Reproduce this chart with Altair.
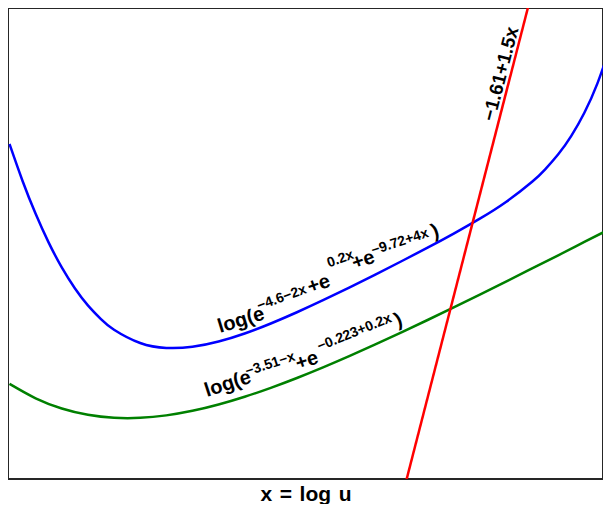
import altair as alt
import pandas as pd

# Blue curve: log(e^{-4.6-2x} + e^{0.2x} + e^{-9.72+4x})
blue_x = [-2.3, -2.2, -2.1, -2.0, -1.9, -1.8, -1.7, -1.6, -1.5, -1.3, -1.1, -0.9, -0.7, -0.5,
          -0.3, -0.1, 0.1, 0.3, 0.5, 0.7, 0.9, 1.1, 1.3, 1.5, 1.7, 1.8, 1.9, 2.0, 2.1, 2.2, 2.3]
blue_y = [0.4894, 0.3803, 0.2832, 0.1981, 0.1250, 0.0635, 0.0129, -0.0277, -0.0590, -0.0983,
          -0.1130, -0.1097, -0.0941, -0.0703, -0.0407, -0.0075, 0.0281, 0.0653, 0.1037, 0.1431,
          0.1832, 0.2248, 0.2689, 0.3182, 0.3778, 0.4146, 0.4590, 0.5134, 0.5818, 0.6684, 0.7787]

# Green curve: log(e^{-3.51-x} + e^{-0.223+0.2x})
green_x = [-2.3, -2.1, -1.9, -1.7, -1.5, -1.3, -1.1, -0.9, -0.7, -0.5, -0.3, -0.1,
           0.1, 0.3, 0.5, 0.7, 0.9, 1.1, 1.3, 1.5, 1.7, 1.9, 2.1, 2.3]
green_y = [-0.2190, -0.2616, -0.2916, -0.3103, -0.3192, -0.3194, -0.3121, -0.2987, -0.2800,
           -0.2571, -0.2308, -0.2017, -0.1704, -0.1373, -0.1027, -0.0670, -0.0304, 0.0070,
           0.0448, 0.0831, 0.1219, 0.1608, 0.2001, 0.2393]

# Red line: -1.61 + 1.5x
red_x = [0.7, 1.7]
red_y = [-0.56, 0.94]

# Label pieces (text along the curves)
label_text = ["log(e", "\u22124.6\u22122x", "+e", "0.2x", "+e", "\u22129.72+4x", ")",
              "log(e", "\u22123.51\u2212x", "+e", "\u22120.223+0.2x", ")",
              "\u22121.61+1.5x"]
label_x = [-0.689, -0.390, 0.000, 0.1455, 0.3406, 0.4823, 0.9491,
           -0.7883, -0.4822, -0.0918, 0.0727, 0.6698,
           1.4122]
label_y = [-0.069, -0.002, 0.048, 0.1248, 0.1188, 0.1617, 0.2119,
           -0.2577, -0.1957, -0.178, -0.1219, -0.051,
           0.5545]
label_angle = [343, 340, 341, 340, 341, 342, 340,
               342, 342, 342, 338, 338,
               284.5]
label_size = [20, 14, 20, 14, 20, 14, 20,
              20, 14, 20, 14, 20,
              19]

curves = pd.concat([
    pd.DataFrame({"x": blue_x, "y": blue_y, "series": "blue"}),
    pd.DataFrame({"x": green_x, "y": green_y, "series": "green"}),
    pd.DataFrame({"x": red_x, "y": red_y, "series": "red"}),
], ignore_index=True)

labels = pd.DataFrame({"x": label_x, "y": label_y, "text": label_text,
                       "angle": label_angle, "size": label_size})

FONT = "Liberation Sans"

x_enc = alt.X("x:Q",
              scale=alt.Scale(domain=[-2.3115, 2.2426], nice=False, zero=False),
              axis=alt.Axis(title="x \u200a= \u200alog \u200au", labels=False, ticks=False,
                            grid=False, domain=False, titleFontSize=21, titleFont=FONT,
                            titleFontWeight="bold", titleColor="black", titlePadding=4))
y_enc = alt.Y("y:Q", scale=alt.Scale(domain=[-0.5, 0.8911], nice=False, zero=False),
              axis=None)

lines = alt.Chart(curves).mark_line(strokeWidth=2.5, clip=True, interpolate="natural").encode(
    x=x_enc,
    y=y_enc,
    color=alt.Color("series:N",
                    scale=alt.Scale(domain=["blue", "green", "red"],
                                    range=["#0000ff", "#008000", "#ff0000"]),
                    legend=None),
)

texts = alt.Chart(labels).mark_text(align="left", baseline="alphabetic", font=FONT,
                                    fontWeight="bold", color="black").encode(
    x=x_enc,
    y=y_enc,
    text="text:N",
    angle=alt.Angle("angle:Q", scale=None),
    size=alt.Size("size:Q", scale=None),
)

chart = alt.layer(lines, texts).properties(
    width=595, height=471,
    padding={"left": 0, "top": 0, "right": 0, "bottom": 0},
    background="white",
).configure_view(stroke="#262626", strokeWidth=2)

chart.save("out.html", embed_options={"renderer": "svg", "actions": False})
